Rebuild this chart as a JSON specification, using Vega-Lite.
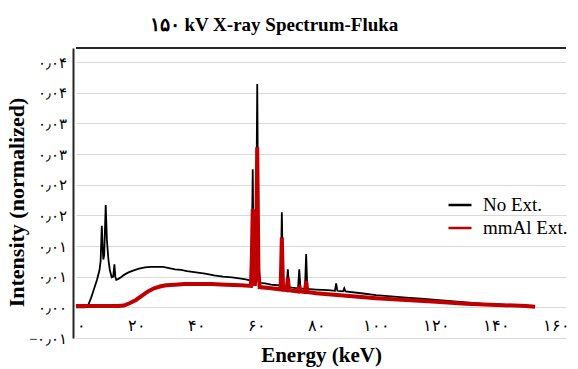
{
  "$schema": "https://vega.github.io/schema/vega-lite/v6.json",
  "width": 490,
  "height": 290,
  "autosize": {"type": "none"},
  "padding": {"left": 76, "top": 48, "right": 12, "bottom": 31},
  "background": "white",
  "config": {"view": {"stroke": null}, "font": "Liberation Serif"},
  "title": {"text": "۱۵۰ kV X-ray Spectrum-Fluka", "font": "Liberation Serif", "fontSize": 19, "fontWeight": "bold", "anchor": "middle", "dx": -47, "offset": 12, "color": "black"},
  "data": {"values": [
    {"s":"No Ext.","E":0,"v":0},{"s":"No Ext.","E":3,"v":0},{"s":"No Ext.","E":4,"v":0.0003},{"s":"No Ext.","E":5,"v":0.0015},{"s":"No Ext.","E":6,"v":0.003},{"s":"No Ext.","E":7,"v":0.0045},{"s":"No Ext.","E":7.8,"v":0.006},{"s":"No Ext.","E":8.2,"v":0.0075},{"s":"No Ext.","E":8.6,"v":0.0133},{"s":"No Ext.","E":8.9,"v":0.0095},{"s":"No Ext.","E":9.1,"v":0.0078},{"s":"No Ext.","E":9.4,"v":0.0085},{"s":"No Ext.","E":9.9,"v":0.0167},{"s":"No Ext.","E":10.3,"v":0.011},{"s":"No Ext.","E":10.8,"v":0.0078},{"s":"No Ext.","E":11.3,"v":0.006},{"s":"No Ext.","E":11.9,"v":0.0049},{"s":"No Ext.","E":12.4,"v":0.005},{"s":"No Ext.","E":12.8,"v":0.007},{"s":"No Ext.","E":13.1,"v":0.005},{"s":"No Ext.","E":13.4,"v":0.0045},{"s":"No Ext.","E":14,"v":0.0046},{"s":"No Ext.","E":15,"v":0.0049},{"s":"No Ext.","E":16,"v":0.0053},{"s":"No Ext.","E":17.5,"v":0.0057},{"s":"No Ext.","E":19,"v":0.006},{"s":"No Ext.","E":21,"v":0.0063},{"s":"No Ext.","E":23,"v":0.0065},{"s":"No Ext.","E":25,"v":0.0066},{"s":"No Ext.","E":27,"v":0.0066},{"s":"No Ext.","E":29,"v":0.0066},{"s":"No Ext.","E":31,"v":0.0064},{"s":"No Ext.","E":33,"v":0.0062},{"s":"No Ext.","E":35,"v":0.0061},{"s":"No Ext.","E":37,"v":0.0059},{"s":"No Ext.","E":40,"v":0.0057},{"s":"No Ext.","E":43,"v":0.0055},{"s":"No Ext.","E":46,"v":0.0052},{"s":"No Ext.","E":49,"v":0.005},{"s":"No Ext.","E":52,"v":0.0049},{"s":"No Ext.","E":55,"v":0.0047},{"s":"No Ext.","E":57,"v":0.0045},{"s":"No Ext.","E":58.3,"v":0.0043},{"s":"No Ext.","E":58.6,"v":0.01},{"s":"No Ext.","E":58.9,"v":0.0225},{"s":"No Ext.","E":59.2,"v":0.006},{"s":"No Ext.","E":59.6,"v":0.0042},{"s":"No Ext.","E":60,"v":0.01},{"s":"No Ext.","E":60.4,"v":0.0364},{"s":"No Ext.","E":60.8,"v":0.008},{"s":"No Ext.","E":61.2,"v":0.004},{"s":"No Ext.","E":63,"v":0.0039},{"s":"No Ext.","E":65,"v":0.0037},{"s":"No Ext.","E":67,"v":0.0036},{"s":"No Ext.","E":68.2,"v":0.0036},{"s":"No Ext.","E":68.6,"v":0.0155},{"s":"No Ext.","E":69,"v":0.0035},{"s":"No Ext.","E":70.2,"v":0.0034},{"s":"No Ext.","E":70.6,"v":0.0062},{"s":"No Ext.","E":71,"v":0.0033},{"s":"No Ext.","E":72,"v":0.0032},{"s":"No Ext.","E":74,"v":0.0031},{"s":"No Ext.","E":74.4,"v":0.0062},{"s":"No Ext.","E":74.8,"v":0.0031},{"s":"No Ext.","E":76.3,"v":0.003},{"s":"No Ext.","E":76.7,"v":0.0087},{"s":"No Ext.","E":77.1,"v":0.003},{"s":"No Ext.","E":80,"v":0.0029},{"s":"No Ext.","E":84,"v":0.0028},{"s":"No Ext.","E":86.3,"v":0.0027},{"s":"No Ext.","E":86.7,"v":0.0039},{"s":"No Ext.","E":87.1,"v":0.0027},{"s":"No Ext.","E":89,"v":0.0026},{"s":"No Ext.","E":89.4,"v":0.0031},{"s":"No Ext.","E":89.8,"v":0.0026},{"s":"No Ext.","E":95,"v":0.0023},{"s":"No Ext.","E":100,"v":0.002},{"s":"No Ext.","E":105,"v":0.0018},{"s":"No Ext.","E":110,"v":0.0016},{"s":"No Ext.","E":115,"v":0.0014},{"s":"No Ext.","E":120,"v":0.0012},{"s":"No Ext.","E":125,"v":0.001},{"s":"No Ext.","E":130,"v":0.0008},{"s":"No Ext.","E":135,"v":0.0006},{"s":"No Ext.","E":140,"v":0.0005},{"s":"No Ext.","E":145,"v":0.0003},{"s":"No Ext.","E":150,"v":0.0002},{"s":"No Ext.","E":153,"v":0.0001},
    {"s":"mmAl Ext.","E":0,"v":0.0002},{"s":"mmAl Ext.","E":5,"v":0.0002},{"s":"mmAl Ext.","E":10,"v":0.0002},{"s":"mmAl Ext.","E":14,"v":0.0002},{"s":"mmAl Ext.","E":16,"v":0.0003},{"s":"mmAl Ext.","E":18,"v":0.0007},{"s":"mmAl Ext.","E":20,"v":0.0012},{"s":"mmAl Ext.","E":22,"v":0.0019},{"s":"mmAl Ext.","E":24,"v":0.0026},{"s":"mmAl Ext.","E":26,"v":0.0031},{"s":"mmAl Ext.","E":28,"v":0.0034},{"s":"mmAl Ext.","E":30,"v":0.0036},{"s":"mmAl Ext.","E":33,"v":0.0037},{"s":"mmAl Ext.","E":36,"v":0.0038},{"s":"mmAl Ext.","E":40,"v":0.0038},{"s":"mmAl Ext.","E":45,"v":0.0038},{"s":"mmAl Ext.","E":50,"v":0.0037},{"s":"mmAl Ext.","E":55,"v":0.0036},{"s":"mmAl Ext.","E":58.3,"v":0.0035},{"s":"mmAl Ext.","E":58.6,"v":0.008},{"s":"mmAl Ext.","E":58.9,"v":0.016},{"s":"mmAl Ext.","E":59.2,"v":0.005},{"s":"mmAl Ext.","E":59.6,"v":0.0035},{"s":"mmAl Ext.","E":60,"v":0.008},{"s":"mmAl Ext.","E":60.4,"v":0.0261},{"s":"mmAl Ext.","E":60.8,"v":0.006},{"s":"mmAl Ext.","E":61.2,"v":0.0033},{"s":"mmAl Ext.","E":65,"v":0.0031},{"s":"mmAl Ext.","E":68.2,"v":0.0029},{"s":"mmAl Ext.","E":68.6,"v":0.0114},{"s":"mmAl Ext.","E":69,"v":0.0029},{"s":"mmAl Ext.","E":70.2,"v":0.0028},{"s":"mmAl Ext.","E":70.6,"v":0.0048},{"s":"mmAl Ext.","E":71,"v":0.0028},{"s":"mmAl Ext.","E":74,"v":0.0026},{"s":"mmAl Ext.","E":74.4,"v":0.0035},{"s":"mmAl Ext.","E":74.8,"v":0.0026},{"s":"mmAl Ext.","E":76.3,"v":0.0025},{"s":"mmAl Ext.","E":76.7,"v":0.0043},{"s":"mmAl Ext.","E":77.1,"v":0.0025},{"s":"mmAl Ext.","E":80,"v":0.0023},{"s":"mmAl Ext.","E":85,"v":0.0021},{"s":"mmAl Ext.","E":90,"v":0.0019},{"s":"mmAl Ext.","E":95,"v":0.0017},{"s":"mmAl Ext.","E":100,"v":0.0015},{"s":"mmAl Ext.","E":110,"v":0.0012},{"s":"mmAl Ext.","E":120,"v":0.0009},{"s":"mmAl Ext.","E":130,"v":0.0006},{"s":"mmAl Ext.","E":140,"v":0.0004},{"s":"mmAl Ext.","E":150,"v":0.0002},{"s":"mmAl Ext.","E":153,"v":0.0001}
  ]},
  "encoding": {
    "x": {"field": "E", "type": "quantitative", "scale": {"domain": [0, 163.3], "nice": false, "zero": false},
      "axis": {"values": [0,20,40,60,80,100,120,140,160], "title": "Energy (keV)", "titleFont": "Liberation Serif", "titleFontSize": 21, "titleFontWeight": "bold", "titleColor": "black", "titleY": 23, "titleBaseline": "alphabetic",
        "labelFont": "Liberation Serif", "labelFontSize": 16, "labelColor": "black", "labelPadding": -21, "ticks": false, "domain": false, "grid": false, "labelOverlap": false,
        "labelAlign": {"condition": {"test": "datum.value == 0", "value": "left"}, "value": "center"},
        "labelExpr": "replace(replace(replace(replace(replace(replace(datum.label, /0/g, '۰'), /1/g, '۱'), /2/g, '۲'), /4/g, '۴'), /6/g, '۶'), /8/g, '۸')"}},
    "y": {"field": "v", "type": "quantitative", "scale": {"domain": [-0.005, 0.04229], "nice": false, "zero": false},
      "axis": {"values": [-0.005,0,0.005,0.01,0.015,0.02,0.025,0.03,0.035,0.04], "title": "Intensity (normalized)", "titleFont": "Liberation Serif", "titleFontSize": 22, "titleFontWeight": "bold", "titleColor": "black", "titleX": -57, "titleY": 154, "titleAngle": -90, "titleAlign": "center", "titleBaseline": "middle",
        "labelFont": "Liberation Serif", "labelFontSize": 15, "labelColor": "black", "labelPadding": 7, "ticks": false, "domain": true, "domainColor": "#262626", "domainWidth": 2, "offset": 3, "labelOverlap": false,
        "grid": true, "gridColor": "#d9d9d9", "gridWidth": 1.2, "gridOpacity": 1,
        "labelExpr": "replace(replace(replace(replace(replace(replace(replace(format(datum.value + (datum.value < 0 ? -1e-9 : 1e-9), '.2f'), /0/g, '۰'), /1/g, '۱'), /2/g, '۲'), /3/g, '۳'), /4/g, '۴'), /5/g, '۵'), /\\./g, '٫')"}},
    "color": {"field": "s", "type": "nominal", "scale": {"domain": ["No Ext.", "mmAl Ext."], "range": ["#000000", "#c00000"]},
      "legend": {"orient": "none", "legendX": 371, "legendY": 144, "title": null, "symbolType": "stroke", "symbolSize": 529, "symbolStrokeWidth": 2.5, "labelFont": "Liberation Serif", "labelFontSize": 19, "labelColor": "black", "rowPadding": 0, "labelOffset": 10}}
  },
  "layer": [
    {
      "transform": [{"filter": "datum.s == 'No Ext.'"}],
      "mark": {"type": "line", "strokeWidth": 1.8}
    },
    {
      "transform": [{"filter": "datum.s == 'mmAl Ext.'"}],
      "mark": {"type": "line", "strokeWidth": 4}
    },
    {
      "mark": {"type": "rule", "color": "#262626", "strokeWidth": 2},
      "encoding": {"x": {"datum": 0}, "x2": {"datum": 163.3}, "y": {"datum": 0.04229}, "color": {"value": "#262626"}}
    }
  ]
}
